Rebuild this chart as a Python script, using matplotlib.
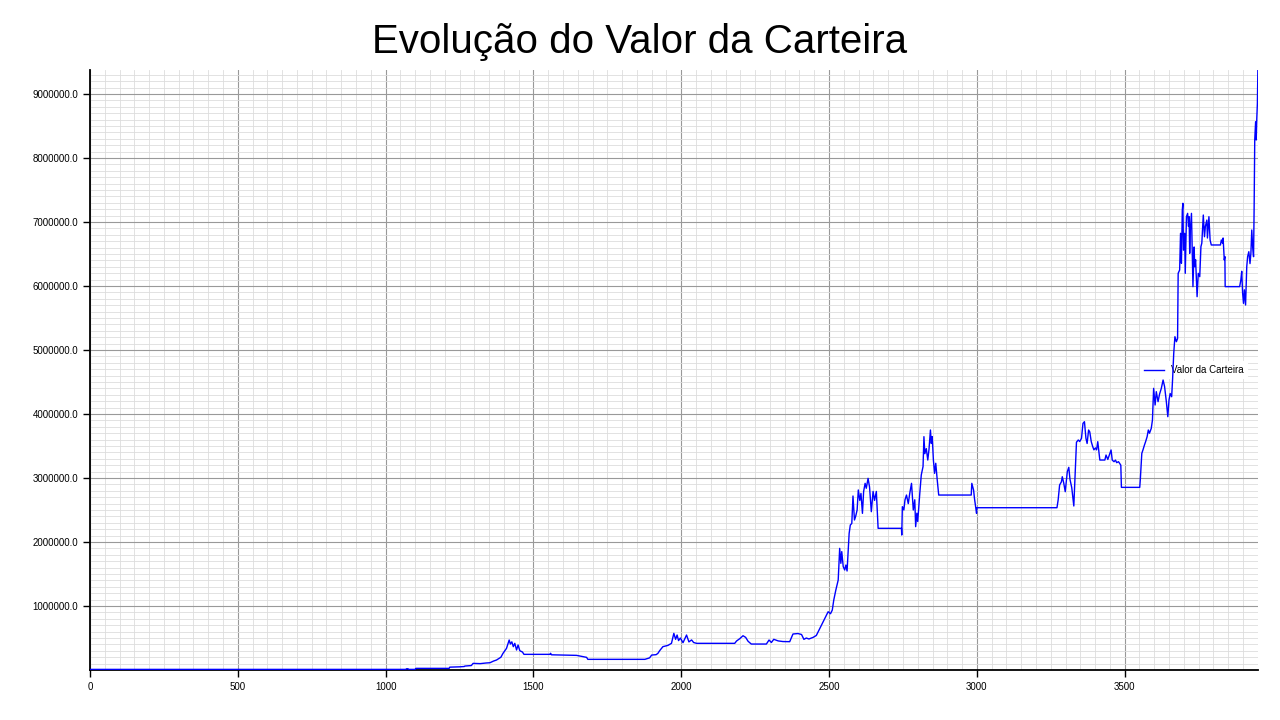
import numpy as np
import matplotlib.pyplot as plt
from matplotlib.ticker import MultipleLocator, FormatStrFormatter

plt.rcParams['font.family'] = ['Liberation Sans', 'DejaVu Sans']

#%% valores (passo, valor da carteira)
passos = [0, 1068, 1071, 1076, 1078, 1100, 1102, 1215, 1217, 1250, 1266, 1268, 1290, 1296, 1320, 1340,
          1353, 1365, 1375, 1390, 1397, 1409, 1418, 1422, 1427, 1432, 1437, 1443, 1448, 1454, 1463, 1468,
          1556, 1558, 1561, 1646, 1680, 1684, 1877, 1893, 1900, 1915, 1921, 1927, 1938, 1955, 1967, 1975,
          1981, 1986, 1991, 1997, 2006, 2018, 2026, 2035, 2042, 2052, 2181, 2187, 2198, 2209, 2218, 2226,
          2237, 2288, 2297, 2305, 2313, 2328, 2344, 2367, 2378, 2395, 2407, 2415, 2423, 2432, 2446, 2457,
          2469, 2480, 2489, 2497, 2505, 2511, 2516, 2523, 2531, 2536, 2540, 2543, 2548, 2553, 2557, 2561,
          2568, 2572, 2577, 2581, 2586, 2590, 2595, 2599, 2604, 2608, 2613, 2617, 2622, 2626, 2632, 2637,
          2643, 2649, 2654, 2660, 2666, 2745, 2746, 2748, 2753, 2757, 2762, 2768, 2773, 2779, 2785, 2790,
          2793, 2797, 2800, 2807, 2812, 2818, 2821, 2824, 2829, 2834, 2838, 2843, 2846, 2849, 2853, 2857,
          2861, 2866, 2871, 2981, 2983, 2989, 2992, 2996, 2999, 3000, 3271, 3275, 3280, 3286, 3289, 3294,
          3299, 3306, 3311, 3315, 3321, 3328, 3333, 3337, 3343, 3348, 3354, 3359, 3364, 3369, 3373, 3378,
          3382, 3387, 3392, 3396, 3401, 3405, 3409, 3413, 3416, 3433, 3437, 3443, 3448, 3454, 3458, 3464,
          3469, 3473, 3479, 3483, 3487, 3489, 3551, 3553, 3558, 3562, 3567, 3571, 3576, 3580, 3584, 3590,
          3594, 3598, 3603, 3607, 3613, 3618, 3624, 3630, 3635, 3641, 3646, 3650, 3654, 3659, 3662, 3666,
          3670, 3675, 3679, 3681, 3686, 3689, 3692, 3695, 3697, 3699, 3703, 3705, 3709, 3713, 3716, 3718,
          3720, 3722, 3726, 3729, 3731, 3735, 3737, 3740, 3745, 3749, 3754, 3758, 3761, 3766, 3770, 3773,
          3778, 3780, 3785, 3789, 3793, 3824, 3827, 3831, 3833, 3837, 3839, 3840, 3889, 3893, 3896, 3899,
          3902, 3905, 3909, 3913, 3916, 3920, 3924, 3927, 3930, 3933, 3936, 3938, 3940, 3943, 3945, 3947,
          3949, 3951]

valores = [10000, 10000, 20000, 20000, 10000, 10000, 26000, 26000, 45000, 50000, 55000, 62000, 70000, 104000, 100000, 110000,
           114000, 140000, 156000, 200000, 260000, 339000, 469000, 406000, 440000, 365000, 417000, 313000, 391000, 302000, 281000, 245000,
           245000, 262000, 238000, 229000, 198000, 167000, 167000, 190000, 234000, 240000, 260000, 302000, 365000, 385000, 417000, 573000,
           480000, 547000, 460000, 500000, 427000, 547000, 440000, 470000, 430000, 417000, 417000, 453000, 490000, 536000, 510000, 450000,
           406000, 406000, 469000, 430000, 480000, 455000, 445000, 443000, 563000, 570000, 555000, 479000, 500000, 485000, 510000, 540000,
           651000, 755000, 833000, 911000, 880000, 937000, 1094000, 1250000, 1406000, 1901000, 1667000, 1850000, 1615000, 1563000, 1640000, 1547000,
           2135000, 2266000, 2290000, 2719000, 2344000, 2400000, 2500000, 2813000, 2650000, 2760000, 2448000, 2790000, 2917000, 2840000, 2995000, 2860000,
           2474000, 2790000, 2650000, 2790000, 2214000, 2214000, 2109000, 2552000, 2500000, 2660000, 2734000, 2600000, 2760000, 2917000, 2500000, 2660000,
           2240000, 2450000, 2320000, 2761000, 3047000, 3180000, 3646000, 3380000, 3460000, 3281000, 3440000, 3750000, 3540000, 3646000, 3281000, 3073000,
           3230000, 2969000, 2734000, 2734000, 2917000, 2810000, 2680000, 2552000, 2448000, 2536000, 2536000, 2656000, 2891000, 2940000, 3020000, 2920000,
           2786000, 3099000, 3167000, 2980000, 2850000, 2563000, 3130000, 3560000, 3594000, 3570000, 3620000, 3854000, 3880000, 3620000, 3540000, 3750000,
           3720000, 3568000, 3490000, 3440000, 3470000, 3440000, 3568000, 3410000, 3281000, 3281000, 3359000, 3290000, 3359000, 3438000, 3280000, 3255000,
           3280000, 3240000, 3255000, 3229000, 3200000, 2854000, 2854000, 2980000, 3385000, 3440000, 3516000, 3570000, 3646000, 3750000, 3700000, 3776000,
           3906000, 4401000, 4141000, 4349000, 4193000, 4310000, 4401000, 4531000, 4430000, 4193000, 3958000, 4220000, 4320000, 4270000, 4531000, 4948000,
           5208000, 5130000, 5180000, 6198000, 6250000, 6823000, 6355000, 7188000, 7292000, 6560000, 6823000, 6198000, 7083000, 7135000, 6930000, 7083000,
           6510000, 6870000, 7135000, 6410000, 5990000, 6610000, 6300000, 6410000, 5833000, 6198000, 6146000, 6615000, 6670000, 7109000, 6770000, 6930000,
           7030000, 6750000, 7083000, 6719000, 6641000, 6641000, 6719000, 6670000, 6750000, 6406000, 6460000, 5990000, 5990000, 6094000, 6230000, 5890000,
           5729000, 5940000, 5703000, 6302000, 6460000, 6536000, 6350000, 6510000, 6875000, 6615000, 6458000, 7240000, 8281000, 8568000, 8281000, 8620000,
           8854000, 9500000]

#%% figura
fig = plt.figure(figsize=(12.8, 7.2), dpi=100)
ax = fig.add_axes([0.0703, 0.0694, 0.9125, 0.8334])

ax.plot(passos, valores, color='#0000ff', linewidth=1.0, label='Valor da Carteira', zorder=3)

ax.set_xlim(0, 3951)
ax.set_ylim(0, 9375000)
ax.set_xticks(np.arange(0, 4000, 500))
ax.set_yticks(np.arange(1000000, 9500000, 1000000))
ax.yaxis.set_major_formatter(FormatStrFormatter('%.1f'))
ax.xaxis.set_minor_locator(MultipleLocator(50))
ax.yaxis.set_minor_locator(MultipleLocator(100000))
ax.tick_params(axis='both', which='major', labelsize=7, direction='out', length=5, width=1)
ax.tick_params(axis='both', which='minor', length=0)

ax.grid(True, which='major', color='#999999', linewidth=0.8)
ax.grid(True, which='minor', color='#dddddd', linewidth=0.6)
ax.set_axisbelow(True)

for s in ['top', 'right']:
    ax.spines[s].set_visible(False)
for s in ['left', 'bottom']:
    ax.spines[s].set_linewidth(1.3)

# titulo centrado na figura, nao no eixo
fig.suptitle('Evolução do Valor da Carteira', fontsize=29, x=0.5, y=0.942, va='center')

leg = ax.legend(loc='center left', bbox_to_anchor=(0.895, 0.5), fontsize=7,
                frameon=True, facecolor='white', edgecolor='none', framealpha=1)
leg.set_zorder(2.5)

plt.savefig('out.png', dpi=100)
